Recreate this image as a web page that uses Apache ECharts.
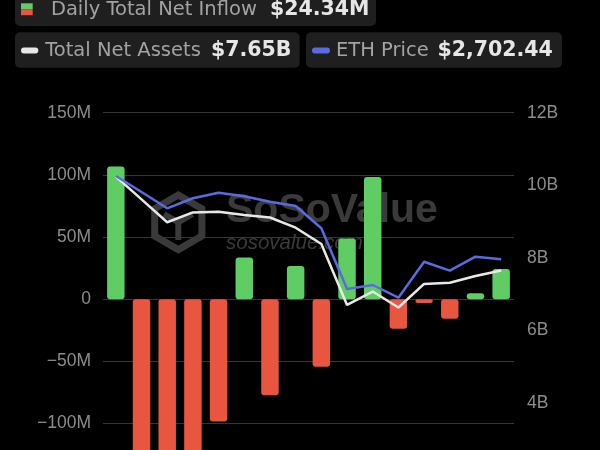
<!DOCTYPE html>
<html><head><meta charset="utf-8">
<script src="https://cdn.jsdelivr.net/npm/echarts@6/dist/echarts.min.js"></script>
<style>html,body{margin:0;padding:0;background:#000;overflow:hidden;width:600px;height:450px}#c{width:600px;height:600px}</style>
</head><body><div id="c"></div>
<script>
const categories = ['2024-07-23','2024-07-24','2024-07-25','2024-07-26','2024-07-29','2024-07-30','2024-07-31','2024-08-01','2024-08-02','2024-08-05','2024-08-06','2024-08-07','2024-08-08','2024-08-09','2024-08-12','2024-08-13'];
const dailyNetInflowM = [106.78, -133.16, -152.26, -162.7, -98.29, 33.67, -77.24, 26.7, -54.28, 48.8, 98.35, -23.72, -2.93, -15.74, 4.93, 24.34];
const totalNetAssetsB = [10.24, 9.61, 8.98, 9.25, 9.27, 9.18, 9.11, 8.83, 8.38, 6.70, 7.07, 6.63, 7.28, 7.31, 7.50, 7.65];
const ethPrice = [3482, 3333, 3180, 3274, 3326, 3292, 3242, 3201, 2993, 2424, 2462, 2343, 2680, 2596, 2727, 2702.44];
const legendLabels = ['Daily Total Net Inflow', 'Total Net Assets', 'ETH Price'];
const legendValues = ['$24.34M', '$7.65B', '$2,702.44'];

const GREEN = '#5fcd64', RED = '#e8563f', BLUE = '#5a6be0', WHITE = '#e8e8e8';
const LBL = '19.5px "DejaVu Sans"', VAL = 'bold 20.5px "DejaVu Sans"';
const WM = '#3a3a3a';

function fmtM(v){ if(v===0) return '0'; return (v<0?'\u2212':'') + Math.abs(v) + 'M'; }

const chart = echarts.init(document.getElementById('c'), null, {renderer:'canvas'});
chart.setOption({
  backgroundColor: '#000',
  animation: false,
  grid: {left: 103, right: 86, top: 112.7, height: 435.3},
  xAxis: {type: 'category', data: categories, axisLine: {show: false}, axisTick: {show: false}, axisLabel: {show: false}},
  yAxis: [
    {type: 'value', min: -200, max: 150, interval: 50, position: 'left',
     axisLabel: {formatter: fmtM, color: '#8c8c8c', fontSize: 17.5, fontFamily: 'Liberation Sans', margin: 12},
     splitLine: {lineStyle: {color: '#363636', width: 1}}, axisLine: {show: false}, axisTick: {show: false}},
    {type: 'value', min: 0, max: 12, interval: 2, position: 'right',
     axisLabel: {formatter: v => v + 'B', color: '#8c8c8c', fontSize: 17.5, fontFamily: 'Liberation Sans', margin: 13},
     splitLine: {show: false}, axisLine: {show: false}, axisTick: {show: false}},
    {type: 'value', min: 0, max: 4075, show: false}
  ],
  series: [
    {name: legendLabels[0], type: 'bar', yAxisIndex: 0, barWidth: '68%',
     data: dailyNetInflowM.map(v => ({value: v, itemStyle: {color: v >= 0 ? GREEN : RED}})),
     itemStyle: {borderRadius: 3}},
    {name: legendLabels[1], type: 'line', yAxisIndex: 1, data: totalNetAssetsB, showSymbol: false, symbol: 'none',
     lineStyle: {color: WHITE, width: 2.5}, z: 3},
    {name: legendLabels[2], type: 'line', yAxisIndex: 2, data: ethPrice, showSymbol: false, symbol: 'none',
     lineStyle: {color: BLUE, width: 2.5}, z: 4}
  ],
  graphic: [
    {type: 'polygon', z: 0, silent: true, shape: {points: [[178.3,195],[201.9,208.65],[201.9,235.95],[178.3,249.6],[154.7,235.95],[154.7,208.65]]},
     style: {fill: 'none', stroke: WM, lineWidth: 7, lineJoin: 'miter'}},
    {type: 'polyline', z: 0, silent: true, shape: {points: [[164,214],[178.3,222.3],[192.6,214]]}, style: {fill: 'none', stroke: WM, lineWidth: 6}},
    {type: 'polyline', z: 0, silent: true, shape: {points: [[178.3,222.3],[178.3,240]]}, style: {fill: 'none', stroke: WM, lineWidth: 6}},
    {type: 'text', z: 0, silent: true, style: {text: 'SoSoValue', x: 226, y: 231, font: 'bold 41px "Liberation Sans"', fill: WM, verticalAlign: 'bottom'}},
    {type: 'text', z: 0, silent: true, style: {text: 'sosovalue.com', x: 226, y: 253, font: 'italic 20.5px "Liberation Sans"', fill: WM, verticalAlign: 'bottom'}},
    {type: 'rect', shape: {x: 15, y: -12, width: 361, height: 38, r: 5}, style: {fill: '#1f1f1f'}},
    {type: 'rect', shape: {x: 15, y: 32.3, width: 284.6, height: 35.4, r: 5}, style: {fill: '#1f1f1f'}},
    {type: 'rect', shape: {x: 306, y: 32.3, width: 256, height: 35.4, r: 5}, style: {fill: '#1f1f1f'}},
    {type: 'rect', shape: {x: 21, y: 3.3, width: 11.7, height: 6}, style: {fill: GREEN}},
    {type: 'rect', shape: {x: 21, y: 9.3, width: 11.7, height: 5.9}, style: {fill: RED}},
    {type: 'rect', shape: {x: 21, y: 47.6, width: 17.3, height: 5.8, r: 2.9}, style: {fill: WHITE}},
    {type: 'rect', shape: {x: 312, y: 47.6, width: 18, height: 5.8, r: 2.9}, style: {fill: BLUE}},
    {type: 'text', style: {text: legendLabels[0], x: 50.9, y: 9.6, font: LBL, fill: '#a3a3a3', verticalAlign: 'middle'}},
    {type: 'text', style: {text: legendValues[0], x: 270, y: 9.6, font: VAL, fill: '#e6e6e6', verticalAlign: 'middle'}},
    {type: 'text', style: {text: legendLabels[1], x: 45.2, y: 50.5, font: LBL, fill: '#a3a3a3', verticalAlign: 'middle'}},
    {type: 'text', style: {text: legendValues[1], x: 211, y: 50.5, font: VAL, fill: '#e6e6e6', verticalAlign: 'middle'}},
    {type: 'text', style: {text: legendLabels[2], x: 336, y: 50.5, font: LBL, fill: '#a3a3a3', verticalAlign: 'middle'}},
    {type: 'text', style: {text: legendValues[2], x: 437.4, y: 50.5, font: VAL, fill: '#e6e6e6', verticalAlign: 'middle'}}
  ]
});
</script></body></html>
